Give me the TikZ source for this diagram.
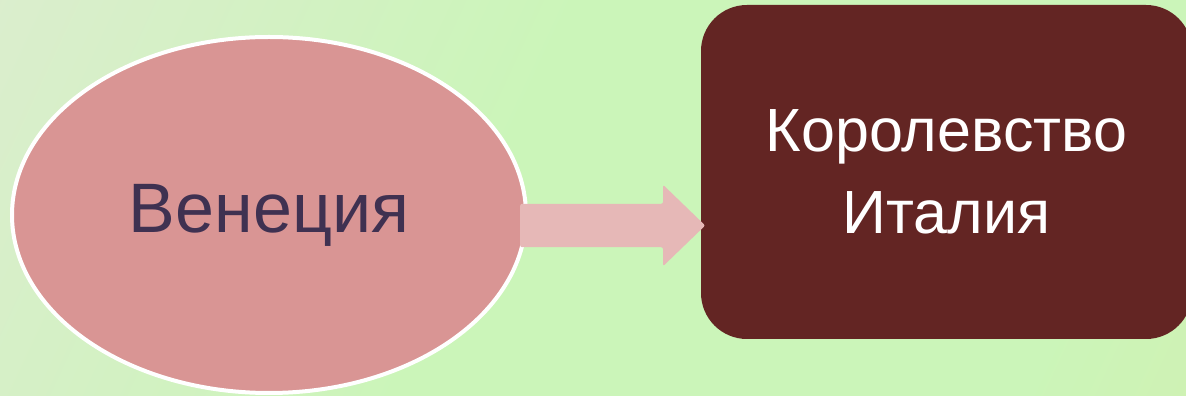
\documentclass[tikz,border=0pt]{standalone}
\usepackage{fontspec}
\setmainfont{Liberation Sans}
\usetikzlibrary{shapes.geometric,shapes.arrows}

\definecolor{bgcorner}{HTML}{E4E9D9}
\definecolor{bgmid}{HTML}{CBF5B9}
\definecolor{bgend}{HTML}{D6EBAA}
\definecolor{venicefill}{HTML}{D99594}
\definecolor{venicetext}{HTML}{3F3151}
\definecolor{arrowfill}{HTML}{E6B8B7}
\definecolor{kingdomfill}{HTML}{632523}

\pgfdeclarehorizontalshading{bgshade}{100bp}{color(0bp)=(bgcorner); color(45bp)=(bgmid); color(75bp)=(bgmid); color(100bp)=(bgend)}

\tikzset{
    oval/.style={ellipse, fill=venicefill, draw=white, line width=4pt,
        minimum width=514pt, minimum height=356pt, inner sep=0pt,
        text=venicetext, font=\fontsize{70}{80}\selectfont},
    bigbox/.style={rectangle, rounded corners=46pt, fill=kingdomfill,
        minimum width=491pt, minimum height=334pt, inner sep=0pt,
        text=white, align=center, font=\fontsize{61}{82}\selectfont},
    fatarrow/.style={single arrow, fill=arrowfill, rounded corners=2pt,
        minimum height=185pt, inner xsep=0pt, inner ysep=21.5pt,
        single arrow head extend=19pt, single arrow tip angle=88}
}

\begin{document}
\begin{tikzpicture}[x=1pt, y=1pt]
    \useasboundingbox (0,0) rectangle (1186,396);
    \clip (0,0) rectangle (1186,396);
    \shade[shading=bgshade, shading angle=-25] (0,0) rectangle (1186,396);

    \coordinate (V) at (269, 181);
    \coordinate (K) at (946.5, 224);
    \coordinate (T) at (520, 170.5);

    \node[oval] (venice) at (V) {Венеция};
    \node[bigbox] (kingdom) at (K) {Королевство\\Италия};
    \node[fatarrow, anchor=tail] (arrow) at (T) {};
\end{tikzpicture}
\end{document}
